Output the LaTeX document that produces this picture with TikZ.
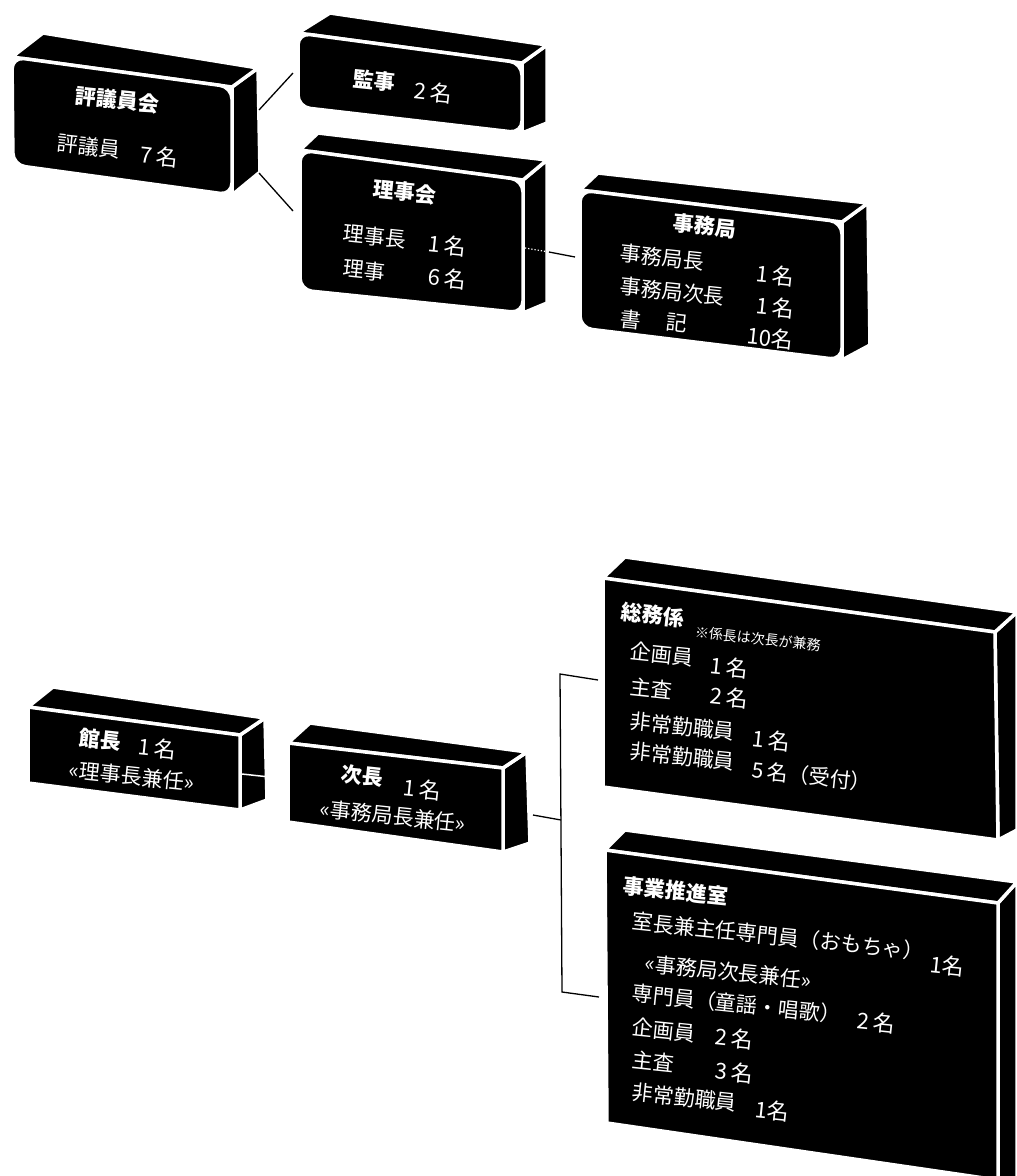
\documentclass[tikz,border=0pt]{standalone}
\usepackage{fontspec}
\setmainfont{Noto Sans CJK JP}
\newcommand{\orgblock}[9]{%
  \coordinate (#2-a) at (#3); \coordinate (#2-b) at (#4);
  \coordinate (#2-c) at (#5); \coordinate (#2-d) at (#6);
  \coordinate (#2-e) at (#7); \coordinate (#2-f) at (#8);
  \coordinate (#2-g) at (#9);
  \draw[face] (#2-b) -- (#2-f) -- (#2-g) -- (#2-c) -- cycle;
  \draw[face] (#2-a) -- (#2-e) -- (#2-f) -- (#2-b) -- cycle;
  \draw[#1] (#2-a) -- (#2-b) -- (#2-c) -- (#2-d) -- cycle;}
\begin{document}
\begin{tikzpicture}[x=1pt,y=-1pt,
  face/.style={fill=black, draw=white, line width=3.5pt, line join=round},
  frontround/.style={face, rounded corners=12pt},
  frontsq/.style={face},
  lbl/.style={text=white, inner sep=0pt, rotate=-6, font=\fontsize{21}{21}\selectfont},
  lft/.style={lbl, anchor=west},
  num/.style={lbl, font=\fontsize{22}{22}\selectfont},
  ttl/.style={lbl, font=\fontsize{21}{21}\selectfont\bfseries},
  note/.style={lbl, anchor=west, font=\fontsize{14}{14}\selectfont},
  conn/.style={black, line width=1.3pt}]
\useasboundingbox (0,0) rectangle (1017,1176);
\fill[white] (0,0) rectangle (1017,1176);

% ---------- blocks ----------
\orgblock{frontround}{hyo}{12,57}{232,87}{232,195}{13,165}{43,33}{258,68}{260,172}
\orgblock{frontround}{kan}{298,33}{522,63}{522,133}{298,107}{330,13}{547,45}{547,123}
\orgblock{frontround}{rij}{300,150}{523,180}{523,313}{300,290}{318,133}{547,160}{547,303}
\orgblock{frontround}{jim}{580,190}{842,222}{842,360}{580,328}{598,173}{868,203}{870,345}
\orgblock{frontsq}{kcho}{28,707}{240,735}{240,810}{28,783}{53,687}{265,718}{267,800}
\orgblock{frontsq}{jcho}{288,743}{503,768}{503,852}{288,822}{310,723}{527,752}{530,843}
\orgblock{frontsq}{som}{603,578}{995,632}{998,840}{603,787}{625,557}{1017,612}{1017,830}
\orgblock{frontsq}{jig}{605,850}{998,903}{998,1180}{607,1123}{625,830}{1017,882}{1017,1180}

% ---------- connectors ----------
\coordinate (hyo-p1) at (259,110); \coordinate (kan-p1) at (293,73);
\coordinate (hyo-p2) at (259,173); \coordinate (rij-p1) at (293,211);
\draw[conn] (hyo-p1) -- (kan-p1);
\draw[conn] (hyo-p2) -- (rij-p1);
\coordinate (rij-p2) at (525,248); \coordinate (rij-p3) at (549,252); \coordinate (jim-p1) at (575,257);
\draw[white, line width=1.2pt, dotted] (rij-p2) -- (rij-p3);
\draw[conn] (rij-p3) -- (jim-p1);
\coordinate (kcho-p1) at (242,774); \coordinate (jcho-p1) at (288,779);
\draw[white, line width=1.5pt] (kcho-p1) -- (jcho-p1);
\coordinate (jcho-p2) at (533,815); \coordinate (br-m) at (561,820);
\draw[conn] (jcho-p2) -- (br-m);
\coordinate (som-p1) at (598,680); \coordinate (br-t) at (560,674);
\coordinate (br-b) at (562,992); \coordinate (jig-p1) at (599,997);
\draw[conn, line join=miter] (som-p1) -- (br-t) -- (br-b) -- (jig-p1);

% ---------- texts ----------
\node[ttl] (t-hyo) at (117,100) {評議員会};
\node[lft] (t-hyo1) at (57,143) {評議員};
\node[num] (t-hyo2) at (159,156) {7\,名};

\node[ttl] (t-kan) at (374,81) {監事};
\node[num] (t-kan1) at (433,92) {2\,名};

\node[ttl] (t-rij) at (405,192) {理事会};
\node[lft] (t-rij1) at (343,233) {理事長};
\node[num] (t-rij2) at (447,245) {1\,名};
\node[lft] (t-rij3) at (343,268) {理事};
\node[num] (t-rij4) at (447,278) {6\,名};

\node[ttl] (t-jim) at (705,226) {事務局};
\node[lft] (t-jim1) at (620,253) {事務局長};
\node[num] (t-jim2) at (775,275) {1\,名};
\node[lft] (t-jim3) at (620,286) {事務局次長};
\node[num] (t-jim4) at (775,307) {1\,名};
\node[lbl] (t-jim5) at (631,320) {書};
\node[lbl] (t-jim6) at (677,323) {記};
\node[num] (t-jim7) at (770,338) {10名};

\node[ttl] (t-kcho) at (100,740) {館長};
\node[num] (t-kcho1) at (157,748) {1\,名};
\node[lbl] (t-kcho2) at (132,776) {«理事長兼任»};

\node[ttl] (t-jcho) at (362,776) {次長};
\node[num] (t-jcho1) at (422,789) {1\,名};
\node[lbl] (t-jcho2) at (393,816) {«事務局長兼任»};

\node[ttl] (t-som) at (653,615) {総務係};
\node[note] (t-som0) at (695,632) {※係長は次長が兼務};
\node[lft] (t-som1) at (630,651) {企画員};
\node[num] (t-som2) at (729,667) {1\,名};
\node[lft] (t-som3) at (630,686) {主査};
\node[num] (t-som4) at (729,697) {2\,名};
\node[lft] (t-som5) at (630,721) {非常勤職員};
\node[num] (t-som6) at (771,740) {1\,名};
\node[lft] (t-som7) at (630,751) {非常勤職員};
\node[lbl, anchor=west] (t-som8) at (752,770) {5\,名（受付）};

\node[ttl] (t-jig) at (676,891) {事業推進室};
\node[lft] (t-jig1) at (632,921) {室長兼主任専門員（おもちゃ）};
\node[num] (t-jig2) at (947,966) {1名};
\node[lft] (t-jig3) at (645,963) {«事務局次長兼任»};
\node[lft] (t-jig4) at (632,993) {専門員（童謡・唱歌）};
\node[num] (t-jig5) at (876,1022) {2\,名};
\node[lft] (t-jig6) at (632,1027) {企画員};
\node[num] (t-jig7) at (734,1038) {2\,名};
\node[lft] (t-jig8) at (632,1059) {主査};
\node[num] (t-jig9) at (734,1072) {3\,名};
\node[lft] (t-jig10) at (632,1092) {非常勤職員};
\node[num] (t-jig11) at (772,1111) {1名};
\end{tikzpicture}
\end{document}
